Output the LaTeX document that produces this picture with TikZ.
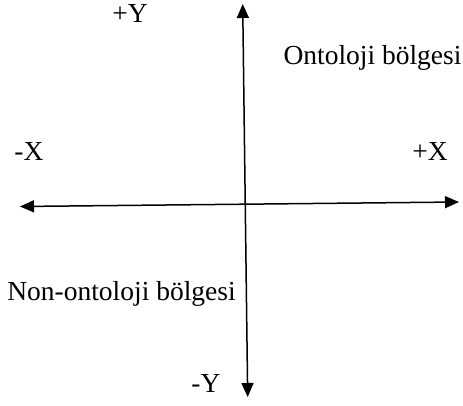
\documentclass[tikz,border=0pt]{standalone}
\usepackage{fontspec}
\setmainfont{Liberation Serif}
\usetikzlibrary{arrows.meta, positioning}
\tikzset{
  axis/.style  = {{Triangle[length=14pt, width=12pt]}-{Triangle[length=14pt, width=12pt]}, line width=1.5pt},
  lbl/.style   = {font=\fontsize{27.5}{31}\selectfont, inner sep=0pt, anchor=base}
}
\begin{document}
\begin{tikzpicture}[x=1pt, y=-1pt]

  % ── Canvas ────────────────────────────────────────────────────────────────
  \useasboundingbox (0,0) rectangle (463,406);

  % ── Axis end points ───────────────────────────────────────────────────────
  \coordinate (XMin) at (20,206.5);
  \coordinate (XMax) at (459,202);
  \coordinate (YMax) at (242.7,4);
  \coordinate (YMin) at (247.7,397);

  % ── Axes ──────────────────────────────────────────────────────────────────
  \draw[axis] (XMin) -- (XMax);
  \draw[axis] (YMin) -- (YMax);

  % ── Axis labels ───────────────────────────────────────────────────────────
  \node[lbl] (PlusY)  at (130,23)  {+Y};
  \node[lbl] (MinusY) at (206,392) {-Y};
  \node[lbl] (MinusX) at (29,161)  {-X};
  \node[lbl] (PlusX)  at (430,161) {+X};

  % ── Regions ───────────────────────────────────────────────────────────────
  \node[lbl] (Onto)    at (372.5,65) {Ontoloji bölgesi};
  \node[lbl] (NonOnto) at (121.5,300) {Non-ontoloji bölgesi};

\end{tikzpicture}
\end{document}
